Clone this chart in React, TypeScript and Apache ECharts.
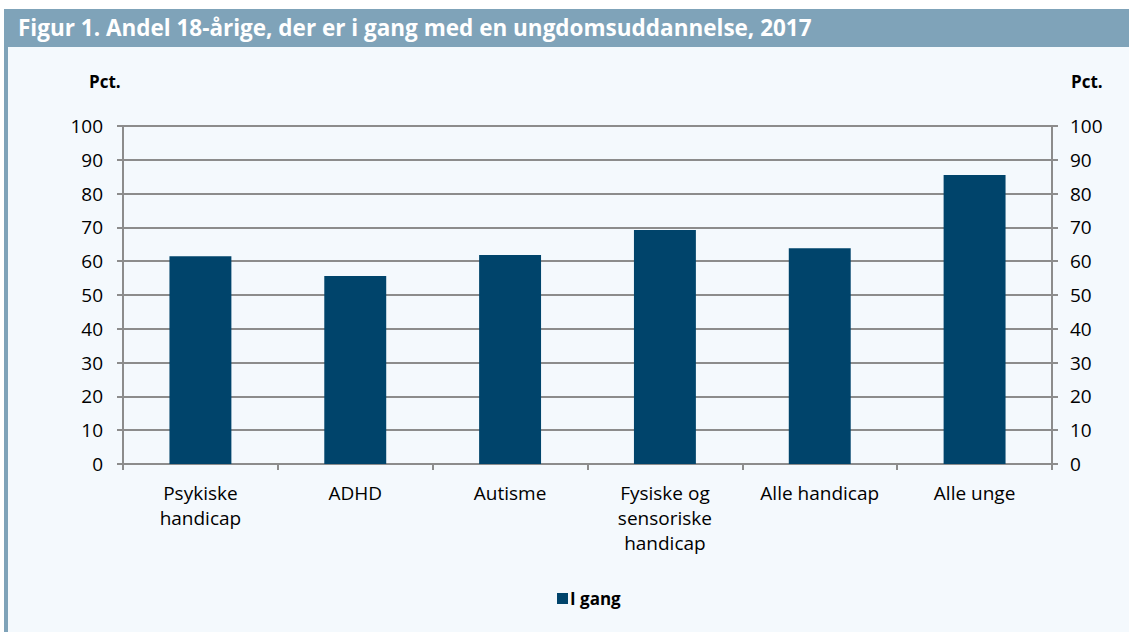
import React, { useEffect, useRef } from "react";
import * as echarts from "echarts";

const categories = ["Psykiske\nhandicap", "ADHD", "Autisme", "Fysiske og\nsensoriske\nhandicap", "Alle handicap", "Alle unge"];
const values = [61.5, 55.6, 61.8, 69.2, 63.8, 85.5];
const seriesName = "I gang";
const title = "Figur 1. Andel 18-årige, der er i gang med en ungdomsuddannelse, 2017";
const axisUnit = "Pct.";

const FONT = "'Open Sans', Lato, sans-serif";

export default function App() {
  const ref = useRef<HTMLDivElement>(null);
  useEffect(() => {
    document.body.style.margin = "0";
    const chart = echarts.init(ref.current!, null, { renderer: "svg" });
    const axisColor = "#8c8c8c";
    const yAxisCommon = {
      type: "value" as const,
      min: 0,
      max: 100,
      interval: 10,
      axisLine: { show: true, lineStyle: { color: axisColor, width: 2 } },
      axisTick: { show: true, length: 6, lineStyle: { color: axisColor, width: 2 } },
    };
    chart.setOption({
      animation: false,
      backgroundColor: "#ffffff",
      textStyle: { fontFamily: FONT },
      graphic: [
        { type: "rect", z: -10, shape: { x: 8, y: 47, width: 1121, height: 585 }, style: { fill: "#f4f9fd" } },
        { type: "rect", z: -10, shape: { x: 4, y: 9, width: 1125, height: 38 }, style: { fill: "#7fa3b9" } },
        { type: "rect", z: -10, shape: { x: 4, y: 47, width: 4, height: 585 }, style: { fill: "#7fa3b9" } },
        {
          type: "text",
          left: 18,
          top: 16,
          style: { text: title, fill: "#ffffff", font: `bold 22.5px ${FONT}` },
        },
        {
          type: "text",
          left: 89,
          top: 73,
          style: { text: axisUnit, fill: "#000", font: `bold 17px ${FONT}` },
        },
        {
          type: "text",
          left: 1071,
          top: 73,
          style: { text: axisUnit, fill: "#000", font: `bold 17px ${FONT}` },
        },
      ],
      grid: { left: 123, right: 77, top: 126, bottom: 168 },
      legend: {
        left: 552,
        top: 585,
        itemWidth: 11,
        itemHeight: 11,
        itemGap: 4,
        icon: "rect",
        textStyle: { color: "#000", fontSize: 17, fontWeight: "bold", fontFamily: FONT, padding: [0, 0, 0, -3] },
        data: [seriesName],
      },
      xAxis: {
        type: "category",
        data: categories,
        axisLine: { lineStyle: { color: axisColor, width: 2 } },
        axisTick: { show: true, length: 6, alignWithLabel: false, lineStyle: { color: axisColor, width: 2 } },
        axisLabel: { color: "#000", fontSize: 19, fontFamily: FONT, margin: 16, lineHeight: 25, interval: 0 },
      },
      yAxis: [
        {
          ...yAxisCommon,
          position: "left",
          axisLabel: { color: "#000", fontSize: 19, fontFamily: FONT, margin: 20 },
          splitLine: { show: true, lineStyle: { color: axisColor, width: 2 } },
        },
        {
          ...yAxisCommon,
          position: "right",
          axisLabel: { color: "#000", fontSize: 19, fontFamily: FONT, margin: 18 },
          splitLine: { show: false },
        },
      ],
      series: [
        {
          name: seriesName,
          type: "bar",
          data: values,
          barWidth: "40%",
          itemStyle: { color: "#00446b" },
        },
      ],
    });
    return () => chart.dispose();
  }, []);
  return <div ref={ref} style={{ width: 1129, height: 632 }} />;
}
